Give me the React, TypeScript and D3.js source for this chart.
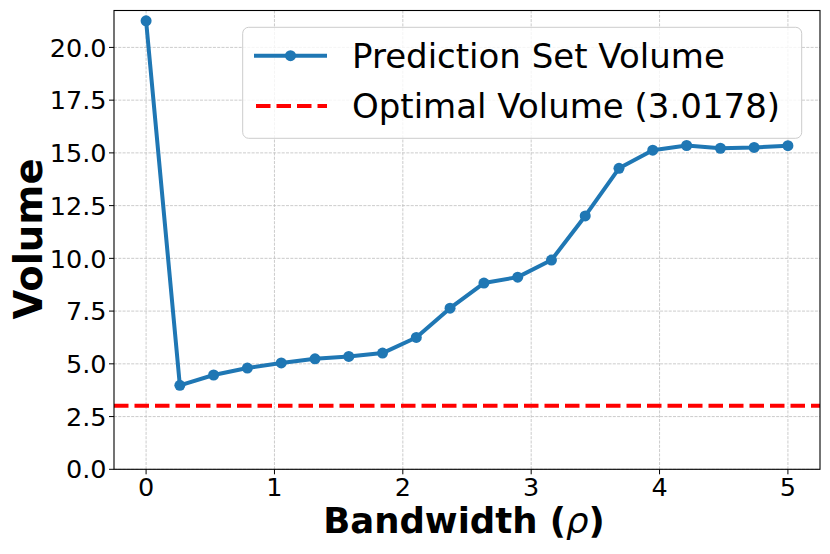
import * as d3 from "d3";
import { useRef, useEffect } from "react";

const bandwidth = [0, 0.263, 0.526, 0.789, 1.053, 1.316, 1.579, 1.842, 2.105, 2.368, 2.632, 2.895, 3.158, 3.421, 3.684, 3.947, 4.211, 4.474, 4.737, 5];
const volume = [21.26, 3.98, 4.47, 4.8, 5.04, 5.24, 5.35, 5.51, 6.25, 7.64, 8.83, 9.11, 9.92, 12.01, 14.27, 15.13, 15.35, 15.22, 15.26, 15.34];
const optimal = 3.0178;
const xTicks = [0, 1, 2, 3, 4, 5];
const yTicks = [0, 2.5, 5, 7.5, 10, 12.5, 15, 17.5, 20];
const legendItems = ["Prediction Set Volume", "Optimal Volume (3.0178)"];

const FONT = "DejaVu Sans, sans-serif";

export default function App() {
  const ref = useRef();

  useEffect(() => {
    const width = 830;
    const height = 554;
    const m = { left: 114, right: 820, top: 10.5, bottom: 469.3 };

    const svg = d3.select(ref.current).attr("width", width).attr("height", height);
    svg.selectAll("*").remove();

    const x = d3.scaleLinear().domain([-0.25, 5.25]).range([m.left, m.right]);
    const y = d3.scaleLinear().domain([0, 21.75]).range([m.bottom, m.top]);

    // grid
    const grid = svg.append("g").attr("stroke", "#b0b0b0").attr("stroke-width", 0.8).attr("stroke-dasharray", "3,1.3").attr("opacity", 0.8);
    xTicks.forEach((t) => {
      grid.append("line").attr("x1", x(t)).attr("x2", x(t)).attr("y1", m.top).attr("y2", m.bottom);
    });
    yTicks.forEach((t) => {
      grid.append("line").attr("x1", m.left).attr("x2", m.right).attr("y1", y(t)).attr("y2", y(t));
    });

    // optimal line
    svg
      .append("line")
      .attr("x1", m.left)
      .attr("x2", m.right)
      .attr("y1", y(optimal))
      .attr("y2", y(optimal))
      .attr("stroke", "red")
      .attr("stroke-width", 4)
      .attr("stroke-dasharray", "14.5,6");

    // series
    const pts = bandwidth.map((b, i) => [b, volume[i]]);
    const line = d3.line().x((d) => x(d[0])).y((d) => y(d[1]));
    svg
      .append("path")
      .attr("d", line(pts))
      .attr("fill", "none")
      .attr("stroke", "#1f77b4")
      .attr("stroke-width", 4)
      .attr("stroke-linejoin", "round");
    svg
      .append("g")
      .selectAll("circle")
      .data(pts)
      .enter()
      .append("circle")
      .attr("cx", (d) => x(d[0]))
      .attr("cy", (d) => y(d[1]))
      .attr("r", 5.5)
      .attr("fill", "#1f77b4");

    // spines
    svg
      .append("rect")
      .attr("x", m.left)
      .attr("y", m.top)
      .attr("width", m.right - m.left)
      .attr("height", m.bottom - m.top)
      .attr("fill", "none")
      .attr("stroke", "#000")
      .attr("stroke-width", 1.1);

    // ticks
    const tg = svg.append("g").attr("font-family", FONT).attr("font-size", 25.5).attr("fill", "#000");
    xTicks.forEach((t) => {
      tg.append("line").attr("x1", x(t)).attr("x2", x(t)).attr("y1", m.bottom).attr("y2", m.bottom + 5).attr("stroke", "#000");
      tg.append("text").attr("x", x(t)).attr("y", 496).attr("text-anchor", "middle").text(t);
    });
    yTicks.forEach((t) => {
      tg.append("line").attr("x1", m.left - 5).attr("x2", m.left).attr("y1", y(t)).attr("y2", y(t)).attr("stroke", "#000");
      tg.append("text").attr("x", 106.5).attr("y", y(t)).attr("dy", "0.36em").attr("text-anchor", "end").text(t.toFixed(1));
    });

    // axis labels
    const xl = svg
      .append("text")
      .attr("x", 464)
      .attr("y", 533)
      .attr("text-anchor", "middle")
      .attr("font-family", FONT)
      .attr("font-weight", "bold")
      .attr("font-size", 35.5)
      .text("Bandwidth (");
    xl.append("tspan").attr("font-style", "italic").attr("font-weight", "normal").text("ρ");
    xl.append("tspan").text(")");
    svg
      .append("text")
      .attr("transform", `translate(42,239) rotate(-90)`)
      .attr("text-anchor", "middle")
      .attr("font-family", FONT)
      .attr("font-weight", "bold")
      .attr("font-size", 38.5)
      .text("Volume");

    // legend
    const lg = svg.append("g");
    lg.append("rect")
      .attr("x", 242.7)
      .attr("y", 27.3)
      .attr("width", 559)
      .attr("height", 111)
      .attr("rx", 6)
      .attr("fill", "white")
      .attr("fill-opacity", 0.8)
      .attr("stroke", "#cccccc")
      .attr("stroke-width", 1);
    const rowY = [55.7, 106];
    lg.append("line").attr("x1", 254).attr("x2", 327).attr("y1", rowY[0]).attr("y2", rowY[0]).attr("stroke", "#1f77b4").attr("stroke-width", 4);
    lg.append("circle").attr("cx", 290.5).attr("cy", rowY[0]).attr("r", 5.5).attr("fill", "#1f77b4");
    lg.append("line")
      .attr("x1", 256)
      .attr("x2", 327)
      .attr("y1", rowY[1])
      .attr("y2", rowY[1])
      .attr("stroke", "red")
      .attr("stroke-width", 4)
      .attr("stroke-dasharray", "14.5,6");
    legendItems.forEach((s, i) => {
      lg.append("text")
        .attr("x", 352)
        .attr("y", rowY[i])
        .attr("dy", "0.36em")
        .attr("font-family", FONT)
        .attr("font-size", 34)
        .attr("fill", "#000")
        .text(s);
    });
  }, []);

  return <svg ref={ref} style={{ position: "absolute", left: 0, top: 0 }}></svg>;
}
